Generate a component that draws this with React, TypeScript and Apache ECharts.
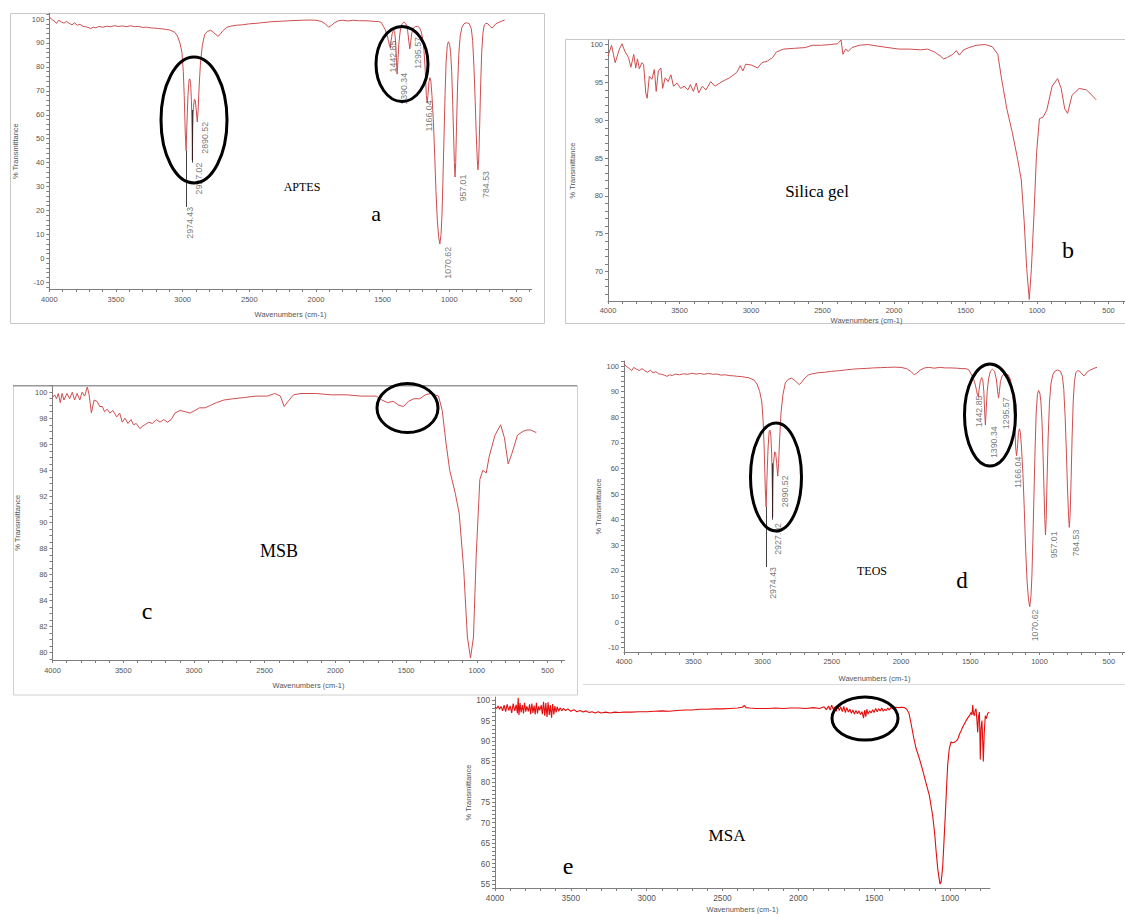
import React, { useEffect, useRef } from "react";
import * as echarts from "echarts";

// ---------- DATA ----------
// APTES spectrum (panel a); TEOS (panel d) shows the identical trace
const aptesData: [number, number][] = [
  [4000, 101], [3985, 100], [3965, 99.2], [3945, 98.2], [3930, 99.5], [3910, 98.8], [3890, 98.3], [3870, 99],
  [3850, 98.2], [3830, 97.6], [3810, 98.4], [3790, 97.4], [3770, 97.8], [3750, 97], [3730, 96.8], [3710, 96.5],
  [3690, 96], [3670, 96.6], [3650, 96.3], [3630, 96.9], [3600, 96.6], [3570, 97], [3540, 96.8], [3510, 97.2],
  [3480, 96.9], [3450, 97.1], [3420, 96.8], [3390, 97.2], [3360, 96.8], [3330, 96.9], [3300, 96.5], [3270, 96.6],
  [3240, 96.3], [3210, 96.2], [3180, 96], [3150, 95.9], [3120, 95.6], [3100, 95.5], [3060, 94.5], [3040, 93],
  [3020, 90], [3005, 86], [2995, 78], [2988, 68], [2980, 52], [2974, 45], [2968, 56], [2960, 68], [2952, 74.5],
  [2946, 75], [2940, 73], [2934, 66], [2929, 52], [2927, 41], [2924, 55], [2919, 63], [2912, 66.5], [2905, 66],
  [2898, 62], [2890, 57], [2884, 62], [2876, 72], [2866, 82], [2852, 89], [2835, 93.5], [2815, 94.8], [2790, 95.3],
  [2770, 94.5], [2750, 93.5], [2735, 92.8], [2720, 93.5], [2700, 95], [2670, 96.5], [2640, 97], [2600, 97.4],
  [2550, 97.6], [2500, 98], [2450, 98.2], [2400, 98.5], [2350, 98.8], [2300, 99], [2250, 99.1], [2200, 99.3],
  [2150, 99.4], [2100, 99.5], [2050, 99.6], [2000, 99.5], [1960, 99], [1930, 98], [1905, 96.6], [1885, 97.3],
  [1860, 98.5], [1830, 99.3], [1800, 99.5], [1760, 99.2], [1720, 99.5], [1680, 99.3], [1640, 99.3], [1600, 99.2],
  [1560, 99], [1530, 99], [1510, 98.5], [1495, 97], [1480, 95.5], [1465, 93], [1455, 90.5], [1447, 88.5],
  [1442, 88], [1436, 91], [1428, 94], [1418, 95.5], [1410, 94.8], [1402, 90], [1396, 82], [1391, 77], [1386, 82],
  [1378, 90], [1368, 95], [1355, 98], [1340, 98.8], [1325, 98], [1312, 95], [1302, 90], [1296, 87.5], [1290, 90],
  [1282, 94], [1270, 96.2], [1255, 96.8], [1240, 97], [1225, 96.5], [1212, 95], [1200, 92], [1190, 87], [1180, 78],
  [1172, 68], [1166, 65], [1160, 68], [1152, 74], [1145, 75.5], [1138, 74], [1130, 68], [1120, 58], [1110, 44],
  [1100, 28], [1090, 16], [1080, 9], [1071, 6], [1062, 10], [1055, 18], [1048, 32], [1040, 50], [1032, 68],
  [1024, 82], [1015, 89], [1007, 90.5], [998, 89.5], [990, 86], [982, 78], [975, 66], [968, 52], [962, 40],
  [957, 34], [952, 40], [946, 55], [938, 72], [928, 86], [918, 93], [905, 96.5], [890, 98], [870, 98.5], [850, 98],
  [835, 96], [825, 91], [815, 80], [806, 66], [798, 52], [790, 41], [785, 37], [779, 42], [772, 56], [765, 72],
  [757, 86], [748, 94], [738, 97.5], [725, 98.2], [710, 98], [695, 97], [680, 96.2], [668, 96.8], [655, 97.8],
  [640, 98.3], [620, 98.8], [600, 99.3], [585, 99.5],
];
const teosData: [number, number][] = aptesData;

const silicaGelData: [number, number][] = [
  [4000, 98.5], [3975, 99.9], [3950, 97.6], [3920, 99.4], [3902, 100.1], [3882, 99.1], [3857, 98.3], [3840, 97],
  [3820, 98.7], [3806, 96.9], [3794, 98.1], [3781, 96.8], [3763, 97.6], [3751, 97.4], [3736, 93.6], [3726, 92.9],
  [3711, 95.8], [3693, 95.4], [3676, 96.7], [3663, 93.8], [3648, 96.5], [3630, 96.9], [3618, 94.2], [3600, 95.6],
  [3580, 95.1], [3560, 96], [3542, 94.5], [3517, 94.9], [3492, 94.2], [3467, 94.5], [3441, 94], [3424, 94.7],
  [3403, 93.8], [3383, 94.9], [3366, 93.6], [3340, 94.5], [3315, 94], [3282, 95.1], [3252, 94.5], [3202, 95.1],
  [3151, 95.6], [3100, 96.3], [3075, 97.2], [3057, 96.5], [3037, 97.4], [2999, 97.3], [2954, 96.9], [2924, 97.6],
  [2886, 97.8], [2848, 98.3], [2823, 99], [2773, 99.4], [2697, 99.5], [2621, 99.6], [2571, 99.9], [2508, 99.9],
  [2445, 100], [2395, 100.1], [2370, 100.6], [2357, 98.7], [2339, 99.4], [2319, 99.1], [2294, 99.6], [2243, 99.9],
  [2180, 100], [2117, 99.8], [2042, 99.6], [1966, 99.4], [1891, 99.4], [1815, 99.3], [1765, 99.4], [1715, 99],
  [1677, 98.5], [1652, 98.1], [1627, 98.3], [1589, 98.7], [1564, 99.2], [1543, 98.6], [1513, 99.3], [1475, 99.6],
  [1425, 99.9], [1362, 100], [1312, 99.7], [1274, 98.7], [1249, 95.6], [1211, 91.5], [1173, 88.4], [1135, 84.8],
  [1110, 82.1], [1090, 76.7], [1072, 70.4], [1054, 66.3], [1039, 70.4], [1021, 77.6], [1003, 85.7], [983, 90.2],
  [958, 90.4], [932, 91.3], [894, 94.5], [856, 95.5], [831, 94.2], [806, 91.5], [786, 90.9], [755, 93.3],
  [705, 94.2], [654, 94], [616, 93.3], [586, 92.7],
];

const msbData: [number, number][] = [
  [4000, 99.6], [3985, 99.8], [3972, 99.5], [3959, 99.9], [3945, 99.2], [3932, 99.9], [3919, 99.4], [3898, 99.9],
  [3879, 99.5], [3860, 100], [3844, 99.4], [3826, 99.9], [3807, 99.4], [3791, 100], [3773, 99.7], [3754, 100.4],
  [3741, 99.8], [3725, 98.4], [3706, 99.4], [3685, 99.3], [3666, 98.9], [3647, 98.9], [3632, 98.5], [3613, 98.7],
  [3594, 98.4], [3573, 98.6], [3546, 98.1], [3525, 98.4], [3507, 97.7], [3488, 98], [3466, 97.6], [3445, 97.9],
  [3427, 97.5], [3408, 97.6], [3381, 97.2], [3365, 97.4], [3347, 97.5], [3320, 97.7], [3294, 97.6], [3267, 97.9],
  [3240, 97.7], [3214, 97.9], [3187, 97.7], [3161, 97.9], [3134, 98.4], [3099, 98.6], [3062, 98.5], [3027, 98.4],
  [2993, 98.6], [2961, 98.8], [2921, 98.8], [2881, 99], [2841, 99.2], [2788, 99.4], [2721, 99.5], [2641, 99.6],
  [2562, 99.7], [2482, 99.7], [2429, 99.9], [2389, 99.7], [2362, 98.9], [2335, 99.3], [2296, 99.8], [2243, 99.9],
  [2136, 99.9], [2030, 99.8], [1923, 99.8], [1817, 99.7], [1711, 99.7], [1671, 99.4], [1631, 99.2], [1591, 99.3],
  [1551, 99], [1519, 98.9], [1484, 99.3], [1444, 99.5], [1404, 99.5], [1364, 99.8], [1324, 99.9], [1271, 99.7],
  [1245, 98.6], [1218, 96.1], [1192, 94], [1152, 92.2], [1125, 90.7], [1093, 86.4], [1067, 81.2], [1045, 79.6],
  [1024, 81.2], [1005, 87.4], [979, 93.3], [958, 94], [934, 93.8], [912, 95.1], [872, 96.7], [832, 97.5],
  [805, 96.5], [779, 94.5], [752, 95.3], [713, 96.7], [673, 97], [646, 97.1], [620, 97.1], [580, 96.9],
];

const msaData: [number, number][] = [
  [4000, 98.3], [3990, 98], [3980, 98.6], [3970, 97.8], [3960, 98.5], [3950, 97.4], [3940, 98.8], [3930, 97.2],
  [3920, 99], [3910, 97.5], [3900, 98.6], [3890, 96.9], [3880, 99.2], [3870, 97.4], [3860, 98.9], [3852, 96.8],
  [3847, 100.6], [3842, 96.4], [3835, 99.3], [3828, 97], [3820, 98.8], [3812, 96.8], [3805, 99.4], [3797, 97.2],
  [3790, 98.5], [3780, 97.3], [3772, 99], [3765, 96.6], [3757, 99.2], [3750, 96.9], [3742, 98.7], [3735, 96.5],
  [3727, 99.4], [3720, 96.8], [3712, 98.5], [3705, 97.5], [3695, 98.8], [3688, 96.6], [3680, 99.6], [3672, 96.2],
  [3665, 99.3], [3657, 95.9], [3650, 99.5], [3642, 96.4], [3635, 98.8], [3627, 95.7], [3620, 99.1], [3612, 96.5],
  [3605, 98.6], [3597, 97], [3590, 98.4], [3580, 97.3], [3570, 98.2], [3560, 97.4], [3550, 98], [3535, 97.5],
  [3520, 97.9], [3500, 97.3], [3480, 97.7], [3460, 97.2], [3440, 97.5], [3420, 97.1], [3400, 97.4], [3380, 97],
  [3360, 97.2], [3340, 96.9], [3320, 97.2], [3300, 96.9], [3270, 97.1], [3240, 96.9], [3210, 97.1], [3180, 97],
  [3150, 97.1], [3100, 97.1], [3050, 97.2], [3000, 97.2], [2950, 97.3], [2900, 97.4], [2850, 97.3], [2800, 97.5],
  [2750, 97.6], [2700, 97.6], [2650, 97.8], [2600, 97.8], [2550, 97.9], [2500, 97.9], [2450, 98], [2400, 98.1],
  [2370, 98.3], [2355, 98.7], [2345, 98.2], [2320, 98.1], [2280, 98], [2240, 98], [2200, 98], [2150, 98.1],
  [2100, 98], [2050, 98.1], [2000, 98.1], [1950, 98], [1900, 98.2], [1860, 98], [1830, 98.4], [1815, 97.7],
  [1800, 98.6], [1790, 97.6], [1780, 98.8], [1770, 97.8], [1760, 98.3], [1750, 97.3], [1740, 98.7], [1730, 97.5],
  [1720, 98.4], [1710, 97.2], [1700, 98.5], [1690, 97], [1680, 98.2], [1670, 97.1], [1660, 97.8], [1650, 96.8],
  [1640, 97.6], [1630, 96.6], [1620, 97.5], [1610, 96.7], [1600, 97.4], [1590, 96.5], [1580, 97.2], [1570, 95.6],
  [1562, 97.6], [1555, 96], [1548, 97.8], [1540, 96.6], [1530, 97.4], [1520, 96.9], [1510, 97.7], [1500, 97],
  [1490, 98], [1480, 97.2], [1470, 97.9], [1460, 97.4], [1450, 98.1], [1440, 97.3], [1430, 97.8], [1420, 97.5],
  [1410, 98.1], [1400, 97.6], [1390, 98.2], [1375, 97.9], [1360, 98.3], [1340, 98.2], [1320, 98.3], [1300, 98.2],
  [1285, 97.8], [1270, 96.8], [1255, 94], [1240, 91], [1224, 88.3], [1200, 85.5], [1180, 82.9], [1160, 80],
  [1136, 76.7], [1114, 71.7], [1100, 67], [1092, 63.3], [1080, 58.5], [1066, 55], [1058, 55.5], [1048, 59.2],
  [1040, 65], [1031, 71.7], [1022, 79], [1015, 84.2], [1005, 88], [993, 89.8], [982, 89.6], [971, 89.7],
  [960, 90], [949, 90.4], [938, 91.6], [927, 92.5], [915, 93.5], [905, 94.2], [894, 95], [880, 95.8], [870, 96.3],
  [861, 97], [855, 96.4], [850, 98.8], [845, 96.8], [839, 96.2], [834, 97.5], [828, 97.9], [822, 95], [817, 92.1],
  [812, 96], [806, 97.1], [803, 92], [800, 85.5], [795, 93], [789, 95], [785, 91], [780, 85], [774, 92],
  [767, 96.2], [760, 95.5], [752, 96.7], [745, 97], [741, 97.1],
];

// peak annotations (text, wavenumber of label centre, %T at label's upper end)
const aptesPeakNames = ["2974.43", "2927.02", "2890.52", "1442.85", "1390.34", "1295.57", "1166.04", "1070.62", "957.01", "784.53"];
const aptesPeakLabelX = [2945, 2875, 2832, 1426, 1343, 1236, 1155, 1012, 895, 727];
const aptesPeakLabelTop = [21.5, 40, 57, 91, 77.5, 92.5, 66, 4.8, 35, 36.5];
const teosPeakLabelX = [2927, 2890, 2841, 1437, 1331, 1239, 1153, 1030, 896, 735];
const teosPeakLabelTop = [21.5, 38.7, 57.3, 88.5, 76.5, 87.8, 64.6, 4.9, 35.4, 36.1];
// leader lines: [wavenumber, from %T, to %T]
const peakLeaderLines: [number, number, number][] = [[2974, 45, 21.5], [2927, 62, 40]];

// tick labels
const xTickLabels = [4000, 3500, 3000, 2500, 2000, 1500, 1000, 500];
const xTickLabelsE = [4000, 3500, 3000, 2500, 2000, 1500, 1000];
const yLabelsAD = [-10, 0, 10, 20, 30, 40, 50, 60, 70, 80, 90, 100];
const yLabelsB = [70, 75, 80, 85, 90, 95, 100];
const yLabelsC = [80, 82, 84, 86, 88, 90, 92, 94, 96, 98, 100];
const yLabelsE = [55, 60, 65, 70, 75, 80, 85, 90, 95, 100];

// ---------- helpers ----------
const steps = (a: number, b: number, s: number) => {
  const out: number[] = [];
  for (let v = a; v <= b + 1e-9; v += s) out.push(Math.round(v * 100) / 100);
  return out;
};
const plain = (v: number) => String(v);

const SANS = "Liberation Sans, Arial, sans-serif";
const SERIF = "Liberation Serif, Times New Roman, serif";
const AX = "#7d7d7d";
const LBL = "#555";

const grids = [
  { left: 49.3, top: 13.3, width: 482.4, height: 275.7 },
  { left: 608, top: 40, width: 517, height: 261 },
  { left: 52.5, top: 385.7, width: 512, height: 274.3 },
  { left: 624, top: 361, width: 501, height: 291 },
  { left: 495, top: 697, width: 495, height: 193 },
];

function xAxis(i: number, min: number, labels: number[], nameGap: number, margin: number, fs: number) {
  return {
    type: "value", gridIndex: i, inverse: true, min, max: 4000,
    axisLine: { show: true, onZero: false, lineStyle: { color: AX, width: 1 } },
    axisTick: { show: true, length: 3, customValues: steps(Math.ceil(min / 100) * 100, 4000, 100), lineStyle: { color: AX } },
    axisLabel: { show: true, customValues: labels, formatter: plain, color: LBL, fontSize: fs, fontFamily: SANS, margin },
    splitLine: { show: false },
    name: "Wavenumbers (cm-1)", nameLocation: "middle", nameGap,
    nameTextStyle: { color: LBL, fontSize: 7.5, fontFamily: SANS },
  };
}
function yAxis(i: number, min: number, max: number, labels: number[], tickStep: number, nameGap: number, fs: number) {
  return {
    type: "value", gridIndex: i, min, max,
    axisLine: { show: true, onZero: false, lineStyle: { color: AX, width: 1 } },
    axisTick: { show: true, length: 3, customValues: steps(Math.ceil(min / tickStep) * tickStep, max, tickStep), lineStyle: { color: AX } },
    axisLabel: { show: true, customValues: labels, formatter: plain, color: LBL, fontSize: fs, fontFamily: SANS, margin: 5 },
    splitLine: { show: false },
    name: "% Transmittance", nameLocation: "middle", nameRotate: 90, nameGap,
    nameTextStyle: { color: LBL, fontSize: 7.5, fontFamily: SANS },
  };
}
function spectrum(i: number, data: [number, number][], color: string, width: number) {
  return {
    type: "line", xAxisIndex: i, yAxisIndex: i, data, showSymbol: false, symbol: "none",
    lineStyle: { color, width }, silent: true, z: 2,
  };
}
function peakLabels(i: number, names: string[], xs: number[], tops: number[]) {
  return {
    type: "scatter", xAxisIndex: i, yAxisIndex: i, symbolSize: 2, itemStyle: { color: "rgba(0,0,0,0)" }, silent: true, z: 3,
    data: names.map((n, k) => ({ name: n, value: [xs[k], tops[k]] })),
    label: {
      show: true, position: "inside", rotate: 90, align: "right", verticalAlign: "middle",
      formatter: "{b}", color: LBL, fontSize: 8.8, fontFamily: SANS,
    },
    labelLayout: { hideOverlap: false },
    markLine: {
      silent: true, symbol: ["none", "none"], label: { show: false },
      lineStyle: { color: "#111", width: 0.8, type: "solid" },
      data: peakLeaderLines.map(([x, a, b]) => [{ coord: [x, a] }, { coord: [x, b] }]),
    },
  };
}

function txt(text: string, x: number, y: number, size: number) {
  return {
    type: "text", x, y, z: 50, silent: true,
    style: { text, fontSize: size, fontFamily: SERIF, fill: "#000", align: "center", verticalAlign: "middle", textAlign: "center", textVerticalAlign: "middle" },
  };
}
function ell(cx: number, cy: number, rx: number, ry: number) {
  return { type: "ellipse", z: 100, silent: true, shape: { cx, cy, rx, ry }, style: { fill: "none", stroke: "#000", lineWidth: 3 } };
}

export default function App() {
  const ref = useRef<HTMLDivElement>(null);
  useEffect(() => {
    if (!ref.current) return;
    const chart = echarts.init(ref.current, null, { renderer: "svg" });
    chart.setOption({
      animation: false,
      backgroundColor: "#fff",
      grid: grids.map((g) => ({ ...g, containLabel: false })),
      xAxis: [
        xAxis(0, 382, xTickLabels, 21, 6, 7.5),
        xAxis(1, 384.6, xTickLabels, 15, 5, 7.5),
        xAxis(2, 380.5, xTickLabels, 21, 6, 7.5),
        xAxis(3, 383, xTickLabels, 22, 5, 7.5),
        xAxis(4, 736, xTickLabelsE, 17, 6, 8.3),
      ],
      yAxis: [
        yAxis(0, -12.8, 102.4, yLabelsAD, 2, 30, 7.5),
        yAxis(1, 66.1, 100.6, yLabelsB, 1, 32, 7.5),
        yAxis(2, 79.44, 100.5, yLabelsC, 0.5, 31, 7.5),
        yAxis(3, -11.7, 102, yLabelsAD, 2, 20, 7.5),
        yAxis(4, 54, 100.8, yLabelsE, 1, 16, 8.3),
      ],
      series: [
        spectrum(0, aptesData, "#cf4d4f", 1),
        spectrum(1, silicaGelData, "#cf4d4f", 1),
        spectrum(2, msbData, "#cf4d4f", 1),
        spectrum(3, teosData, "#cf4d4f", 1),
        spectrum(4, msaData, "#e30d0d", 1.1),
        peakLabels(0, aptesPeakNames, aptesPeakLabelX, aptesPeakLabelTop),
        peakLabels(3, aptesPeakNames, teosPeakLabelX, teosPeakLabelTop),
      ],
      graphic: [
        // screenshot frames
        { type: "rect", z: -10, silent: true, shape: { x: 10.5, y: 13.5, width: 534, height: 310 }, style: { fill: "none", stroke: "#c8c8c8", lineWidth: 1 } },
        { type: "rect", z: -10, silent: true, shape: { x: 565.5, y: 39.5, width: 570, height: 284 }, style: { fill: "none", stroke: "#c8c8c8", lineWidth: 1 } },
        { type: "rect", z: -10, silent: true, shape: { x: 13.5, y: 385.5, width: 564, height: 309.5 }, style: { fill: "none", stroke: "#d0d0d0", lineWidth: 1 } },
        { type: "line", z: -5, silent: true, shape: { x1: 13, y1: 385.7, x2: 577, y2: 385.7 }, style: { stroke: "#999", lineWidth: 1.5 } },
        { type: "line", z: -10, silent: true, shape: { x1: 583, y1: 684.5, x2: 1125, y2: 684.5 }, style: { stroke: "#dcdcdc", lineWidth: 1 } },
        // sample names and panel letters
        txt("APTES", 302, 187, 12), txt("a", 376, 213, 22),
        txt("Silica gel", 817, 191, 17), txt("b", 1068, 250, 24),
        txt("MSB", 279, 551, 18), txt("c", 147, 611, 24),
        txt("TEOS", 872, 571, 12), txt("d", 962, 580, 23),
        txt("MSA", 727, 835, 17), txt("e", 568, 866, 24),
        // highlight ellipses
        ell(194, 120, 33, 63), ell(402, 64, 26, 37.5),
        ell(407.5, 408, 30.5, 24.5),
        ell(776, 477, 25.5, 54), ell(990, 415, 25.5, 51),
        ell(865, 718.5, 33, 21.5),
      ],
    });
    return () => chart.dispose();
  }, []);
  return <div ref={ref} style={{ position: "absolute", left: 0, top: 0, width: 1125, height: 914 }} />;
}
